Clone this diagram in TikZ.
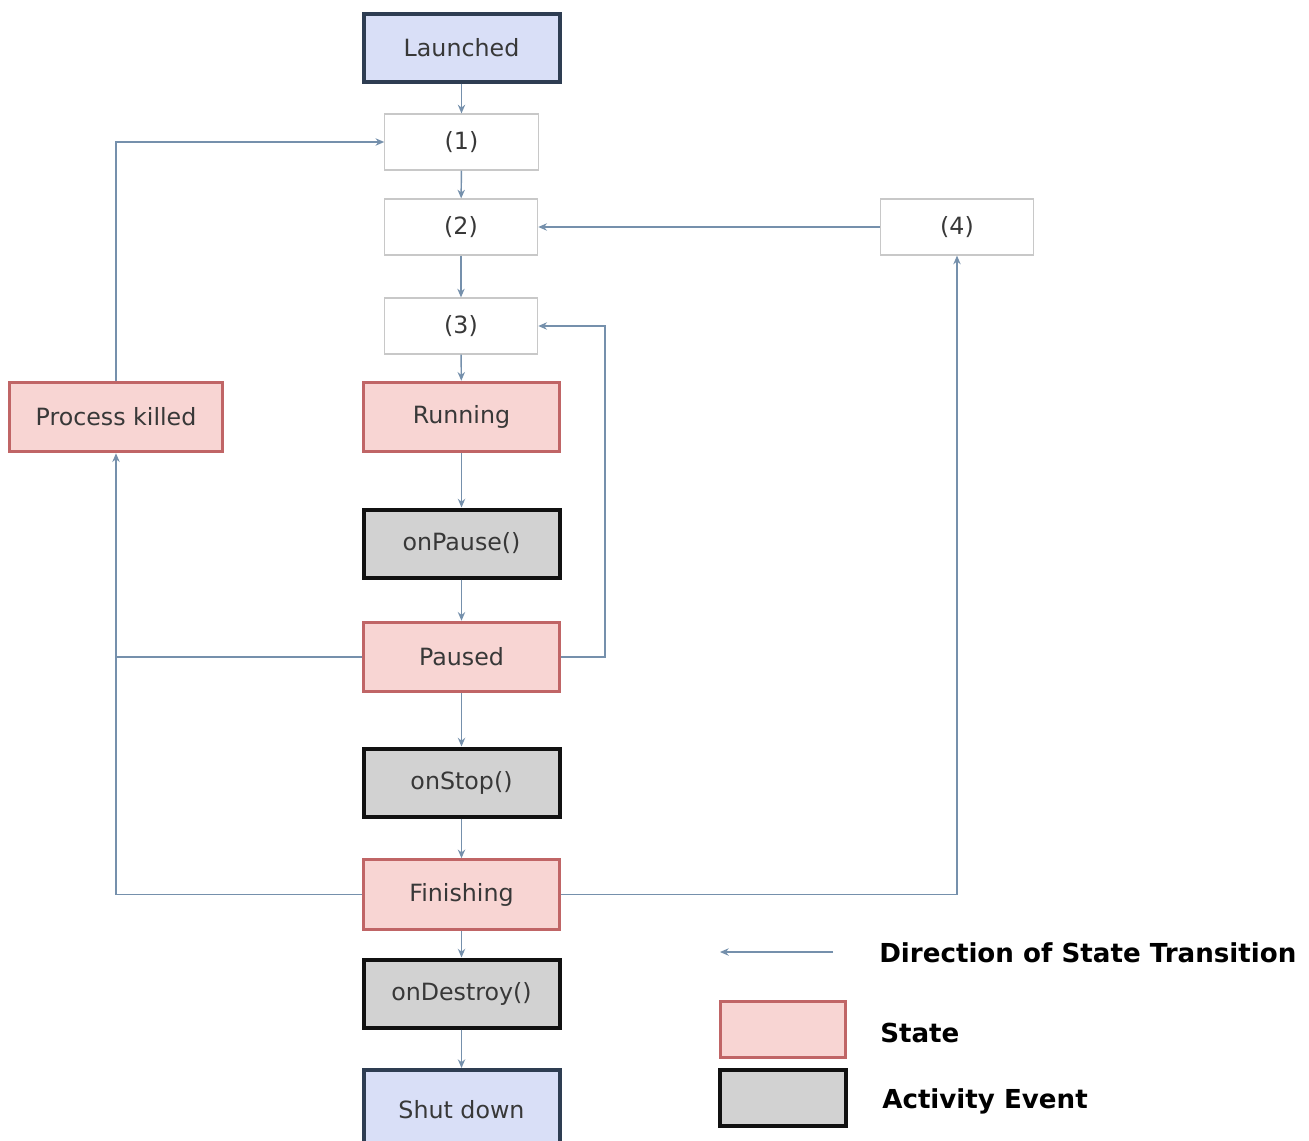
\documentclass[tikz,border=0pt]{standalone}
\usepackage{fontspec}
\setmainfont{DejaVu Sans}
\usetikzlibrary{arrows.meta}
\definecolor{bluefill}{HTML}{D9DFF7}
\definecolor{blueline}{HTML}{2E3D52}
\definecolor{pinkfill}{HTML}{F8D5D3}
\definecolor{pinkline}{HTML}{C06566}
\definecolor{grayfill}{HTML}{D2D2D2}
\definecolor{grayline}{HTML}{111111}
\definecolor{arrcol}{HTML}{7590AC}
\definecolor{thinbox}{HTML}{C8C8C8}
\definecolor{txt}{HTML}{383838}
\tikzset{
  base/.style={rectangle, text=txt, font=\fontsize{17.8}{20}\selectfont, inner sep=0pt},
  endbox/.style={base, fill=bluefill, draw=blueline, line width=3pt, minimum width=147pt, minimum height=51pt},
  statebox/.style={base, fill=pinkfill, draw=pinkline, line width=2.4pt, minimum width=147pt, minimum height=52pt},
  eventbox/.style={base, fill=grayfill, draw=grayline, line width=3pt, minimum width=147pt, minimum height=51pt},
  numbox/.style={base, fill=white, draw=thinbox, line width=0.9pt, minimum width=115pt, minimum height=42pt},
  conn/.style={draw=arrcol, line width=1.1pt},
  arr/.style={conn, -{Stealth[length=6.5pt,width=5.5pt]}},
  legtext/.style={text=black, font=\fontsize{19.6}{22}\selectfont\bfseries, inner sep=0pt, anchor=west},
}
\begin{document}
\begin{tikzpicture}[x=0.75pt, y=-0.75pt]
\useasboundingbox (0,0) rectangle (1309,1140);
\fill[white] (0,0) rectangle (1309,1140);

\node[endbox] (launched) at (461.5,47.5) {Launched};
\node[numbox] (b1) at (461.5,142) {(1)};
\node[numbox] (b2) at (461,227) {(2)};
\node[numbox] (b4) at (957,227) {(4)};
\node[numbox] (b3) at (461,326) {(3)};
\node[statebox] (running) at (461.5,417) {Running};
\node[statebox, minimum width=160pt] (pk) at (116,417) {Process killed};
\node[eventbox] (pause) at (461.5,543.5) {onPause()};
\node[statebox] (paused) at (461.5,657) {Paused};
\node[eventbox] (stop) at (461.5,782.5) {onStop()};
\node[statebox] (fin) at (461.5,894.5) {Finishing};
\node[eventbox] (destroy) at (461.5,993.5) {onDestroy()};
\node[endbox, minimum height=60pt] (shut) at (461.5,1110) {Shut down};

\draw[arr] (launched) -- (b1);
\draw[arr] (b1) -- (b2);
\draw[arr] (b2) -- (b3);
\draw[arr] (b3) -- (running);
\draw[arr] (running) -- (pause);
\draw[arr] (pause) -- (paused);
\draw[arr] (paused) -- (stop);
\draw[arr] (stop) -- (fin);
\draw[arr] (fin) -- (destroy);
\draw[arr] (destroy) -- (shut);

\draw[arr] (pk.north) |- (b1.west);
\draw[arr] (b4.west) -- (b2.east);
\coordinate (pr) at (605,657);
\draw[arr] (paused.east) -- (pr) |- (b3.east);
\draw[conn] (paused.west) -- (paused.west -| pk.south);
\draw[arr] (fin.west) -| (pk.south);
\draw[arr] (fin.east) -| (b4.south);

% legend
\coordinate (la) at (833,952);
\coordinate (lb) at (720,952);
\draw[arr] (la) -- (lb);
\node[legtext] (ldir) at (879,953) {Direction of State Transition};
\node[statebox, minimum width=94pt, minimum height=42pt] (lstate) at (783,1029.5) {};
\node[eventbox, minimum width=94pt, minimum height=42pt] (levent) at (783,1097.5) {};
\node[legtext] (lstatet) at (880,1033) {State};
\node[legtext] (leventt) at (882,1101) {Activity Event};
\end{tikzpicture}
\end{document}
